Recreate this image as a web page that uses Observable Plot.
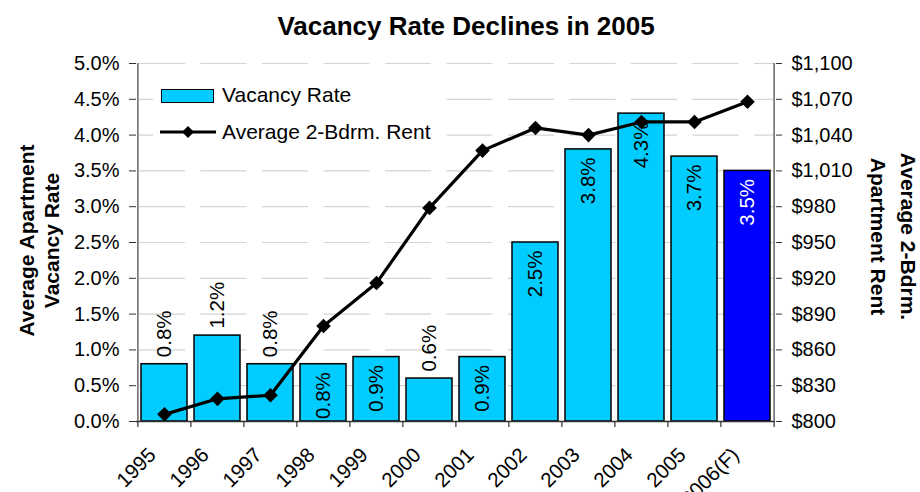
<!DOCTYPE html>
<html>
<head>
<meta charset="utf-8">
<script src="https://cdn.jsdelivr.net/npm/d3@7"></script>
<script src="https://cdn.jsdelivr.net/npm/@observablehq/plot@0.6"></script>
<style>
  body { margin: 0; background: #fff; }
  #wrap { position: relative; width: 920px; height: 492px; overflow: hidden; font-family: 'Liberation Sans', Arial, sans-serif; }
  #wrap svg.chart { position: absolute; left: 0; top: 0; }
  #legend { position: absolute; left: 153px; top: 70px; width: 292px; height: 76px; background: #fff; z-index: 2; }
  #legend .sw { position: absolute; left: 8px; top: 19px; width: 53px; height: 14px; box-sizing: border-box; border: 1.5px solid #000; background: #00ccff; }
  #legend .lt { position: absolute; left: 69px; font-size: 21px; line-height: 24px; color: #000; white-space: nowrap; }
  #legend svg { position: absolute; left: 7px; top: 54px; }
</style>
</head>
<body>
<div id="wrap">
  <div id="legend">
    <div class="sw"></div>
    <span class="lt" style="top:13px">Vacancy Rate</span>
    <svg width="56" height="16" viewBox="0 0 56 16"><line x1="0" y1="8" x2="56" y2="8" stroke="#000" stroke-width="3"/><path d="M28,2L34,8L28,14L22,8Z" fill="#000"/></svg>
    <span class="lt" style="top:50px">Average 2-Bdrm. Rent</span>
  </div>
</div>
<script>
const years = ["1995","1996","1997","1998","1999","2000","2001","2002","2003","2004","2005","2006(F)"];
const vacancyRate = [0.8, 1.2, 0.8, 0.8, 0.9, 0.6, 0.9, 2.5, 3.8, 4.3, 3.7, 3.5];
const avgRent = [806, 819, 822, 880, 916, 979, 1027, 1046, 1040, 1051, 1051, 1068];
const labelPlacement = ["above","above","above","inside","inside","above","inside","inside","inside","inside","inside","inside"];
const vacancyTicks = [0, 0.5, 1, 1.5, 2, 2.5, 3, 3.5, 4, 4.5, 5];
const rentTicks = [800, 830, 860, 890, 920, 950, 980, 1010, 1040, 1070, 1100];

const rentMin = 800, rentMax = 1100, vacMax = 5;
const toY = r => (r - rentMin) / (rentMax - rentMin) * vacMax;
const fromY = y => rentMin + y / vacMax * (rentMax - rentMin);

const rows = years.map((year, i) => ({
  year, vac: vacancyRate[i], rent: avgRent[i], place: labelPlacement[i], forecast: year.includes("(F)")
}));

const W = 920, H = 492, mL = 136, mR = 145, mT = 63, mB = 71;
const pInner = 0.13, pOuter = 0.065;
const step = (W - mL - mR) / (years.length - pInner + 2 * pOuter);
const tickLen = 6 / (H - mT - mB) * vacMax;
const font = "'Liberation Sans', Arial, sans-serif";

const diamond = {
  draw(ctx, size) {
    const h = Math.sqrt(size / Math.PI);
    ctx.moveTo(0, -h); ctx.lineTo(h, 0); ctx.lineTo(0, h); ctx.lineTo(-h, 0); ctx.closePath();
  }
};

const fmtPct = v => v.toFixed(1) + "%";

const chart = Plot.plot({
  width: W, height: H,
  marginLeft: mL, marginRight: mR, marginTop: mT, marginBottom: mB,
  style: { fontFamily: font, fontSize: "20px", color: "#000", background: "transparent", overflow: "hidden" },
  x: { type: "band", domain: years, paddingInner: pInner, paddingOuter: pOuter },
  y: { domain: [0, vacMax] },
  marks: [
    Plot.gridY(vacancyTicks.filter(d => d > 0), { stroke: "#d4d4d4", strokeOpacity: 1, strokeWidth: 1.2, strokeDasharray: "46 15.5", strokeDashoffset: -3 }),
    Plot.barY(rows.filter(d => !d.forecast), { x: "year", y: "vac", fill: "#00ccff", stroke: "#000", strokeWidth: 1.5 }),
    Plot.barY(rows.filter(d => d.forecast), { x: "year", y: "vac", fill: "#0000ff", stroke: "#000", strokeWidth: 1.5 }),
    Plot.text(rows.filter(d => d.place === "above"), { x: "year", y: "vac", text: d => fmtPct(d.vac), rotate: -90, textAnchor: "start", dy: -7, fontSize: 20.5, fill: "#000" }),
    Plot.text(rows.filter(d => d.place === "inside" && !d.forecast), { x: "year", y: "vac", text: d => fmtPct(d.vac), rotate: -90, textAnchor: "end", dy: 8, fontSize: 20.5, fill: "#000" }),
    Plot.text(rows.filter(d => d.place === "inside" && d.forecast), { x: "year", y: "vac", text: d => fmtPct(d.vac), rotate: -90, textAnchor: "end", dy: 8, fontSize: 20.5, fill: "#fff" }),
    Plot.line(rows, { x: "year", y: d => toY(d.rent), stroke: "#000", strokeWidth: 3.2 }),
    Plot.dot(rows, { x: "year", y: d => toY(d.rent), symbol: diamond, r: 7.3, fill: "#000", stroke: "none" }),
    // axis lines
    Plot.ruleY([0], { stroke: "#333", strokeWidth: 1.5 }),
    Plot.ruleX([years[0]], { x: d => d, dx: -step / 2, stroke: "#666", strokeWidth: 1.5 }),
    Plot.ruleX([years[years.length - 1]], { x: d => d, dx: step / 2, stroke: "#666", strokeWidth: 1.5 }),
    // category boundary ticks
    Plot.ruleX(years, { x: d => d, dx: -step / 2, y1: 0, y2: -tickLen, stroke: "#333", strokeWidth: 1.2 }),
    Plot.ruleX([years[years.length - 1]], { x: d => d, dx: step / 2, y1: 0, y2: -tickLen, stroke: "#333", strokeWidth: 1.2 }),
    Plot.axisX({ tickSize: 0, tickPadding: 30, tickRotate: -45, dx: -12, fontSize: 20.5, label: null }),
    Plot.axisY({ anchor: "left", ticks: vacancyTicks, tickFormat: fmtPct, tickSize: 7, tickPadding: 10, fontSize: 20, stroke: "#333", label: null }),
    Plot.axisY({ anchor: "right", ticks: rentTicks.map(toY), tickFormat: y => "$" + d3.format(",")(Math.round(fromY(y))), tickSize: 6, tickPadding: 10, fontSize: 20, stroke: "#333", label: null }),
    // titles
    Plot.text(["Vacancy Rate Declines in 2005"], { frameAnchor: "top", dx: 10, dy: -37, textAnchor: "middle", lineAnchor: "middle", fontSize: 26, fontWeight: "bold", fill: "#000" }),
    Plot.text(["Average Apartment\nVacancy Rate"], { frameAnchor: "left", dx: -98, dy: -2, rotate: -90, textAnchor: "middle", lineAnchor: "middle", fontSize: 21, fontWeight: "bold", lineHeight: 1.19, fill: "#000" }),
    Plot.text(["Average 2-Bdrm.\nApartment Rent"], { frameAnchor: "right", dx: 120, dy: -6, rotate: 90, textAnchor: "middle", lineAnchor: "middle", fontSize: 21, fontWeight: "bold", lineHeight: 1.43, fill: "#000" })
  ]
});
chart.classList.add("chart");
document.getElementById("wrap").prepend(chart);
</script>
</body>
</html>
